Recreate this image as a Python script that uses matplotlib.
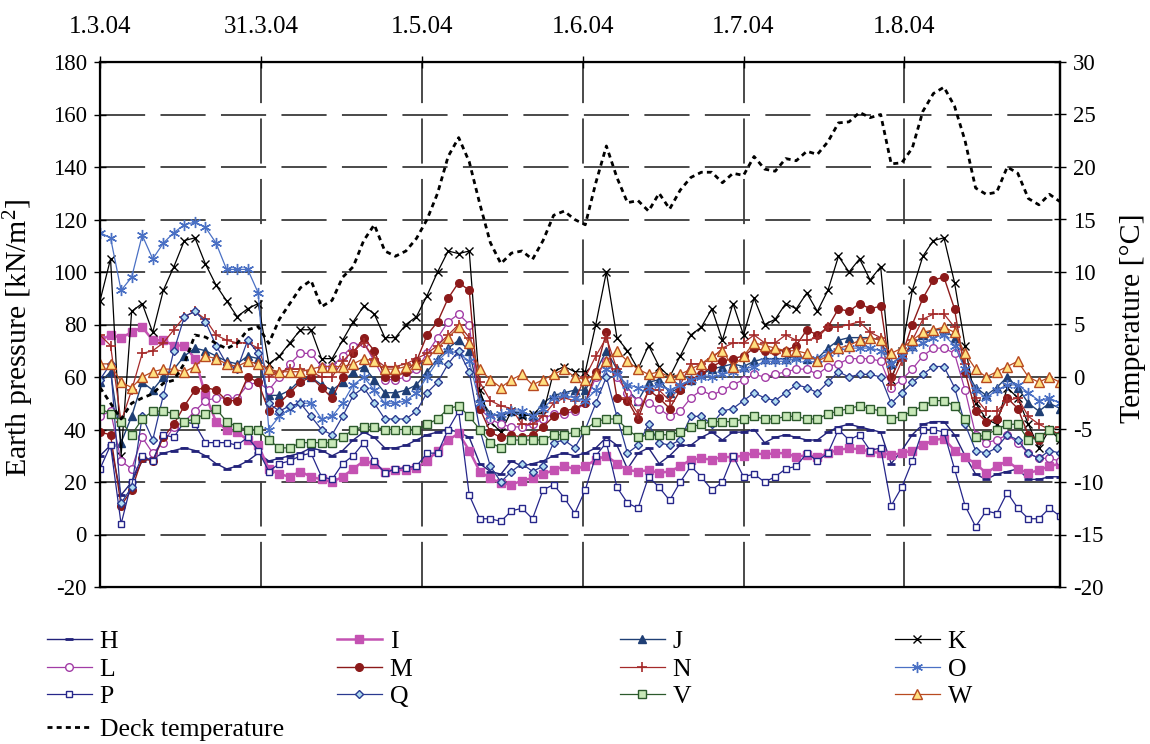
import numpy as np
import matplotlib
matplotlib.use("Agg")
import matplotlib.pyplot as plt
from matplotlib.lines import Line2D

plt.rcParams['font.family'] = ['Liberation Serif', 'DejaVu Serif']
plt.rcParams['mathtext.fontset'] = 'custom'
plt.rcParams['mathtext.rm'] = 'Liberation Serif'
plt.rcParams['mathtext.default'] = 'regular'
plt.rcParams['axes.unicode_minus'] = False

# x: days after 1.3.04 (every second day)
days = np.arange(0, 183, 2)
tick_pos = [0, 30.5, 61, 91.5, 122, 152.5]
tick_labels = ['1.3.04', '31.3.04', '1.5.04', '1.6.04', '1.7.04', '1.8.04']

TEMP = [-1, -2.5, -4, -2.5, -2, -1.6, -0.6, -0.3, 1.3, 4,
        3.8, 3.2, 2.7, 3.2, 4.5, 4.8, 3.2, 5.5, 7, 8.5,
        9.2, 6.7, 7.3, 9.5, 10.5, 13, 14.5, 12, 11.5, 12,
        13.2, 15, 17.5, 21, 22.8, 20.5, 16.5, 12.8, 10.8, 11.8,
        12, 11.2, 13, 15.4, 15.8, 15, 14.5, 18.5, 22, 19,
        16.6, 16.8, 15.8, 17.5, 16, 17.8, 19, 19.5, 19.5, 18.5,
        19.4, 19.2, 21, 19.8, 19.6, 20.8, 20.6, 21.5, 21.2, 22.4,
        24.2, 24.3, 25.2, 24.7, 25, 20.3, 20.4, 21.8, 25.3, 27,
        27.6, 25.8, 22.5, 18, 17.4, 17.6, 20, 19.4, 17, 16.4,
        17.4, 16.7]

H = [30, 34, 15, 20, 28, 29, 31, 32, 33, 32,
     30, 27, 25, 26, 28, 31, 28, 29, 30, 31,
     33, 32, 30, 32, 36, 39, 37, 33, 33, 34,
     36, 38, 39, 40, 39, 37, 27, 24, 23, 28,
     26, 27, 28, 30, 31, 30, 31, 33, 37, 34,
     25, 31, 33, 27, 30, 34, 34, 37, 39, 36,
     39, 39, 40, 35, 37, 38, 37, 36, 36, 39,
     41, 42, 41, 40, 39, 27, 32, 38, 42, 43,
     43, 38, 30, 23, 21, 23, 24, 25, 21, 21,
     22, 22]

I = [74, 76, 75, 77, 79, 74, 74, 72, 72, 67,
     53, 43, 40, 39, 36, 34, 25, 23, 22, 24,
     22, 21, 20, 22, 25, 28, 27, 24, 24.6, 24.6,
     25.5, 28, 32, 36, 38.5, 32, 24, 21.5, 19.5, 19,
     20.5, 21.5, 23, 24.5, 26, 25, 26, 28.5, 30, 27,
     24.6, 24, 24.5, 23.5, 24, 26, 28.5, 29, 28.5, 29.5,
     29.5, 30, 31, 30.5, 31, 31, 29.5, 30.3, 29.5, 31,
     32.3, 32.8, 32.5, 31.6, 31, 30.3, 31, 32, 34, 36,
     36.5, 32, 29.5, 27, 23.4, 26, 28, 25, 23.4, 24.5,
     26, 27]

J = [58, 62, 35, 45, 58, 55, 60, 63, 68, 71,
     70, 68, 66, 65, 68, 67, 53, 53, 55, 59,
     60, 57, 55, 58, 62, 64, 59, 54, 54, 55,
     57, 62, 67, 71, 74, 70, 52, 46, 45, 47,
     46, 45, 50, 53, 54, 55, 55, 62, 70, 63,
     55, 51, 58, 59, 54, 56, 59, 61, 63, 64,
     65, 64, 66, 67, 67, 67, 68, 67, 67, 71,
     74, 75, 75, 75, 74, 65, 68, 72, 76, 78,
     78, 75, 63, 56, 53, 56, 60, 56, 50, 47,
     50, 48]

K = [89, 105, 30, 85, 88, 77, 93, 102, 112, 113,
     103, 95, 89, 83, 86, 88, 65, 68, 73, 78,
     78, 67, 67, 74, 81, 87, 84, 75, 75, 80,
     83, 91, 100, 108, 107, 108, 55, 43, 39, 47,
     45, 46, 46, 62, 64, 62, 62, 80, 100, 75,
     70, 63, 72, 64, 60, 68, 76, 79, 86, 74,
     88, 76, 90, 80, 82, 88, 86, 92, 85, 93,
     106, 100, 105, 97, 102, 59, 70, 93, 106, 112,
     113, 96, 72, 50, 44, 42, 56, 52, 42, 33,
     40, 36]

L = [45, 47, 28, 25, 37, 31, 35, 41, 43, 47,
     51, 52, 52, 52, 57, 58, 55, 60, 65, 69,
     69, 64, 64, 68, 72, 73, 66, 59, 59, 60,
     63, 69, 75, 81, 84, 80, 48, 44, 42, 41,
     41, 42, 44, 46, 46, 47, 50, 60, 66, 60,
     54, 51, 50, 48, 45, 47, 52, 55, 53, 55,
     57, 59, 61, 60, 61, 62, 63, 63, 61, 64,
     65, 67, 67, 67, 66, 56, 59, 63, 68, 71,
     71, 69, 55, 38, 35, 36, 38, 35, 31, 29,
     29, 28]

M = [39, 38, 11, 17, 29, 28, 37, 42, 49, 55,
     56, 55, 51, 51, 60, 58, 47, 50, 54, 58,
     60, 56, 52, 60, 69, 75, 70, 60, 60, 62,
     66, 76, 81, 90, 96, 93, 48, 39, 37, 38,
     37, 38, 41, 45, 47, 48, 50, 62, 77, 52,
     51, 44, 55, 52, 48, 55, 59, 61, 64, 66,
     67, 68, 71, 70, 70, 70, 72, 78, 76, 79,
     86, 85, 88, 86, 87, 60, 68, 80, 90, 97,
     98, 86, 62, 47, 43, 44, 52, 48, 38, 36,
     40, 38]

N = [76, 72, 43, 55, 69, 70, 73, 78, 83, 85,
     82, 76, 74, 73, 73, 71, 60, 62, 63, 63,
     62, 60, 60, 66, 70, 73, 67, 64, 64, 65,
     67, 69, 72, 76, 80, 75, 58, 51, 49, 48,
     42, 42, 45, 50, 52, 51, 60, 68, 75, 63,
     52, 46, 55, 55, 51, 57, 65, 65, 67, 71,
     73, 73, 76, 73, 73, 76, 74, 74, 75, 79,
     79, 80, 81, 77, 75, 57, 66, 74, 82, 84,
     84, 79, 65, 52, 47, 47, 51, 52, 45, 42,
     40, 41]

O = [115, 113, 93, 98, 114, 105, 111, 115, 118, 119,
     117, 111, 101, 101, 101, 92, 40, 45, 48, 50,
     50, 44, 45, 50, 57, 60, 55, 50, 50, 51,
     54, 60, 66, 70, 69, 66, 50, 45, 46, 47,
     47, 45, 48, 52, 53, 52, 51, 55, 63, 61,
     57, 56, 56, 57, 55, 57, 59, 60, 60, 61,
     62, 63, 64, 66, 66, 66, 67, 67, 67, 69,
     70, 71, 71, 71, 70, 65, 68, 71, 73, 75,
     76, 72, 63, 55, 52, 55, 57, 57, 54, 51,
     52, 50]

P = [25, 34, 4, 20, 30, 28, 38, 37, 43, 42,
     35, 35, 35, 34, 37, 32, 24, 27, 28, 30,
     31, 22, 21, 27, 30, 35, 28, 23.5, 25, 25.5,
     26, 31, 31, 40, 47, 15, 6, 6, 5, 9,
     10, 6, 17, 19, 14, 8, 17, 30, 35, 18,
     12, 10, 22, 18, 13, 20, 26, 22, 17, 20,
     30, 22, 23, 20, 22, 25, 26, 31, 28, 31,
     40, 36, 38, 32, 33, 11, 18, 28, 40, 40,
     39, 25, 11, 3, 9, 8, 16, 10, 6, 6,
     10, 7]

Q = [59, 65, 12, 18, 45, 36, 53, 70, 83, 85,
     81, 72, 65, 63, 74, 69, 50, 47, 49, 50,
     45, 40, 38, 45, 53, 56, 50, 44, 44, 44,
     47, 54, 58, 65, 70, 62, 40, 26, 20, 24,
     27, 24, 26, 35, 36, 33, 40, 50, 60, 45,
     31, 34, 42, 35, 34, 36, 45, 45, 42, 47,
     48, 51, 54, 52, 51, 54, 57, 56, 54, 58,
     62, 60, 61, 61, 60, 50, 54, 58, 61, 64,
     64, 56, 42, 32, 31, 33, 38, 36, 31, 29,
     32, 31]

V = [48, 46, 43, 38, 44, 47, 47, 46, 43, 44,
     46, 48, 43, 41, 40, 40, 36, 33, 33, 35,
     35, 35, 35, 37, 40, 41, 41, 40, 40, 40,
     40, 42, 44, 48, 49, 45, 40, 35, 33, 36,
     36, 36, 36, 38, 38, 39, 40, 43, 44, 44,
     40, 37, 38, 38, 38, 39, 41, 42, 43, 43,
     43, 44, 45, 44, 44, 45, 45, 44, 44, 46,
     47, 48, 49, 48, 47, 44, 45, 47, 49, 51,
     51, 49, 44, 37, 38, 40, 42, 42, 36, 37,
     40, 37]

W = [65, 65, 58, 56, 60, 62, 63, 63, 62, 64,
     68, 67, 65, 64, 66, 65, 63, 62, 62, 62,
     63, 64, 64, 64, 65, 67, 66, 63, 63, 64,
     65, 67, 71, 75, 79, 73, 63, 59, 56, 59,
     61, 57, 59, 61, 63, 60, 59, 61, 66, 70,
     66, 63, 61, 62, 60, 61, 63, 65, 68, 70,
     64, 68, 73, 72, 71, 70, 70, 69, 66, 68,
     71, 72, 74, 75, 74, 69, 71, 74, 77, 78,
     79, 77, 69, 63, 60, 62, 64, 66, 60, 58,
     60, 58]

series = [('H', H), ('I', I), ('J', J), ('K', K), ('L', L), ('M', M),
          ('N', N), ('O', O), ('P', P), ('Q', Q), ('V', V), ('W', W)]

styles = {
    'H': dict(color='#22227a', marker='_', ms=6, mew=2.0, lw=1.0),
    'I': dict(color='#c452b2', marker='s', ms=5.5, lw=1.8),
    'J': dict(color='#1f3f75', marker='^', ms=6, lw=1.0),
    'K': dict(color='black', marker='x', ms=6, mew=1.0, lw=0.9),
    'L': dict(color='#a23ca6', marker='o', ms=5.5, mfc='white', mew=1.0, lw=0.9),
    'M': dict(color='#8c1a1a', marker='o', ms=5.5, lw=1.0),
    'N': dict(color='#a52a2a', marker='+', ms=7, mew=1.2, lw=0.9),
    'O': dict(color='#4a70c4', marker=(6, 2, 0), ms=8, mew=1.0, lw=0.9),
    'P': dict(color='#26268a', marker='s', ms=5, mfc='white', mew=1.0, lw=0.9),
    'Q': dict(color='#2a3a90', marker='D', ms=4.5, mfc='#b0dcf0', mew=1.0, lw=0.9),
    'V': dict(color='#2c5a2c', marker='s', ms=6, mfc='#c8e8b8', mew=1.0, lw=0.9),
    'W': dict(color='#b84a20', marker='^', ms=6.5, mfc='#ffe080', mew=1.0, lw=0.9),
}
temp_style = dict(color='black', lw=2.0, ls=(0, (1.8, 1.5)))

YFS = 16.5   # y tick labels
XFS = 18     # top date labels
LABFS = 21.5 # rotated axis titles
LFS = 18.5   # legend

fig = plt.figure(figsize=(11.5, 7.44), dpi=100)
ax = fig.add_axes([100 / 1150, 1 - 587 / 744, 960 / 1150, 525 / 744])

handles = {}
for name, vals in series:
    h, = ax.plot(days, vals, label=name, zorder=3, **styles[name])
    handles[name] = h

ax.set_xlim(0, 182)
ax.set_ylim(-20, 180)
ax.set_yticks(np.arange(-20, 181, 20))
ax.xaxis.tick_top()
ax.set_xticks(tick_pos)
ax.set_xticklabels(tick_labels)
ax.tick_params(axis='x', which='both', top=True, bottom=False, direction='inout',
               length=9, width=1, labelsize=XFS, pad=13)
ax.tick_params(axis='y', direction='inout', length=9, width=1, labelsize=YFS, pad=5)
ax.set_axisbelow(True)
grid_ls = (0, (25, 8.5))
ax.grid(True, axis='both', color='#3a3a3a', lw=1.3, ls=grid_ls)
for s in ax.spines.values():
    s.set_linewidth(1.6)
    s.set_color('black')

ax2 = ax.twinx()
th, = ax2.plot(days, TEMP, label='Deck temperature', zorder=4, **temp_style)
ax2.set_ylim(-20, 30)
ax2.set_yticks(np.arange(-20, 31, 5))
ax2.tick_params(axis='y', direction='inout', length=9, width=1, labelsize=YFS, pad=5)
ax2.spines['right'].set_linewidth(1.6)

fig.text(19 / 1150, 1 - 338 / 744, 'Earth pressure [kN/m$^{2}$]', rotation=90,
         ha='center', va='center', fontsize=LABFS)
fig.text(1133 / 1150, 1 - 318 / 744, 'Temperature [°C]', rotation=90,
         ha='center', va='center', fontsize=LABFS)

cols = [(['H', 'L', 'P'], 47), (['I', 'M', 'Q'], 337), (['J', 'N', 'V'], 620), (['K', 'O', 'W'], 895)]
for names, x0 in cols:
    fig.legend([handles[n] for n in names], names, loc='upper left',
               bbox_to_anchor=(x0 / 1150, 1 - 630 / 744), frameon=False,
               fontsize=LFS, handlelength=1.75, handletextpad=0.3,
               labelspacing=0.18, borderpad=0, borderaxespad=0, numpoints=1)
fig.legend([th], ['Deck temperature'], loc='upper left',
           bbox_to_anchor=(47 / 1150, 1 - 718 / 744), frameon=False,
           fontsize=LFS, handlelength=1.75, handletextpad=0.3,
           borderpad=0, borderaxespad=0)

fig.savefig('out.png', dpi=100)
